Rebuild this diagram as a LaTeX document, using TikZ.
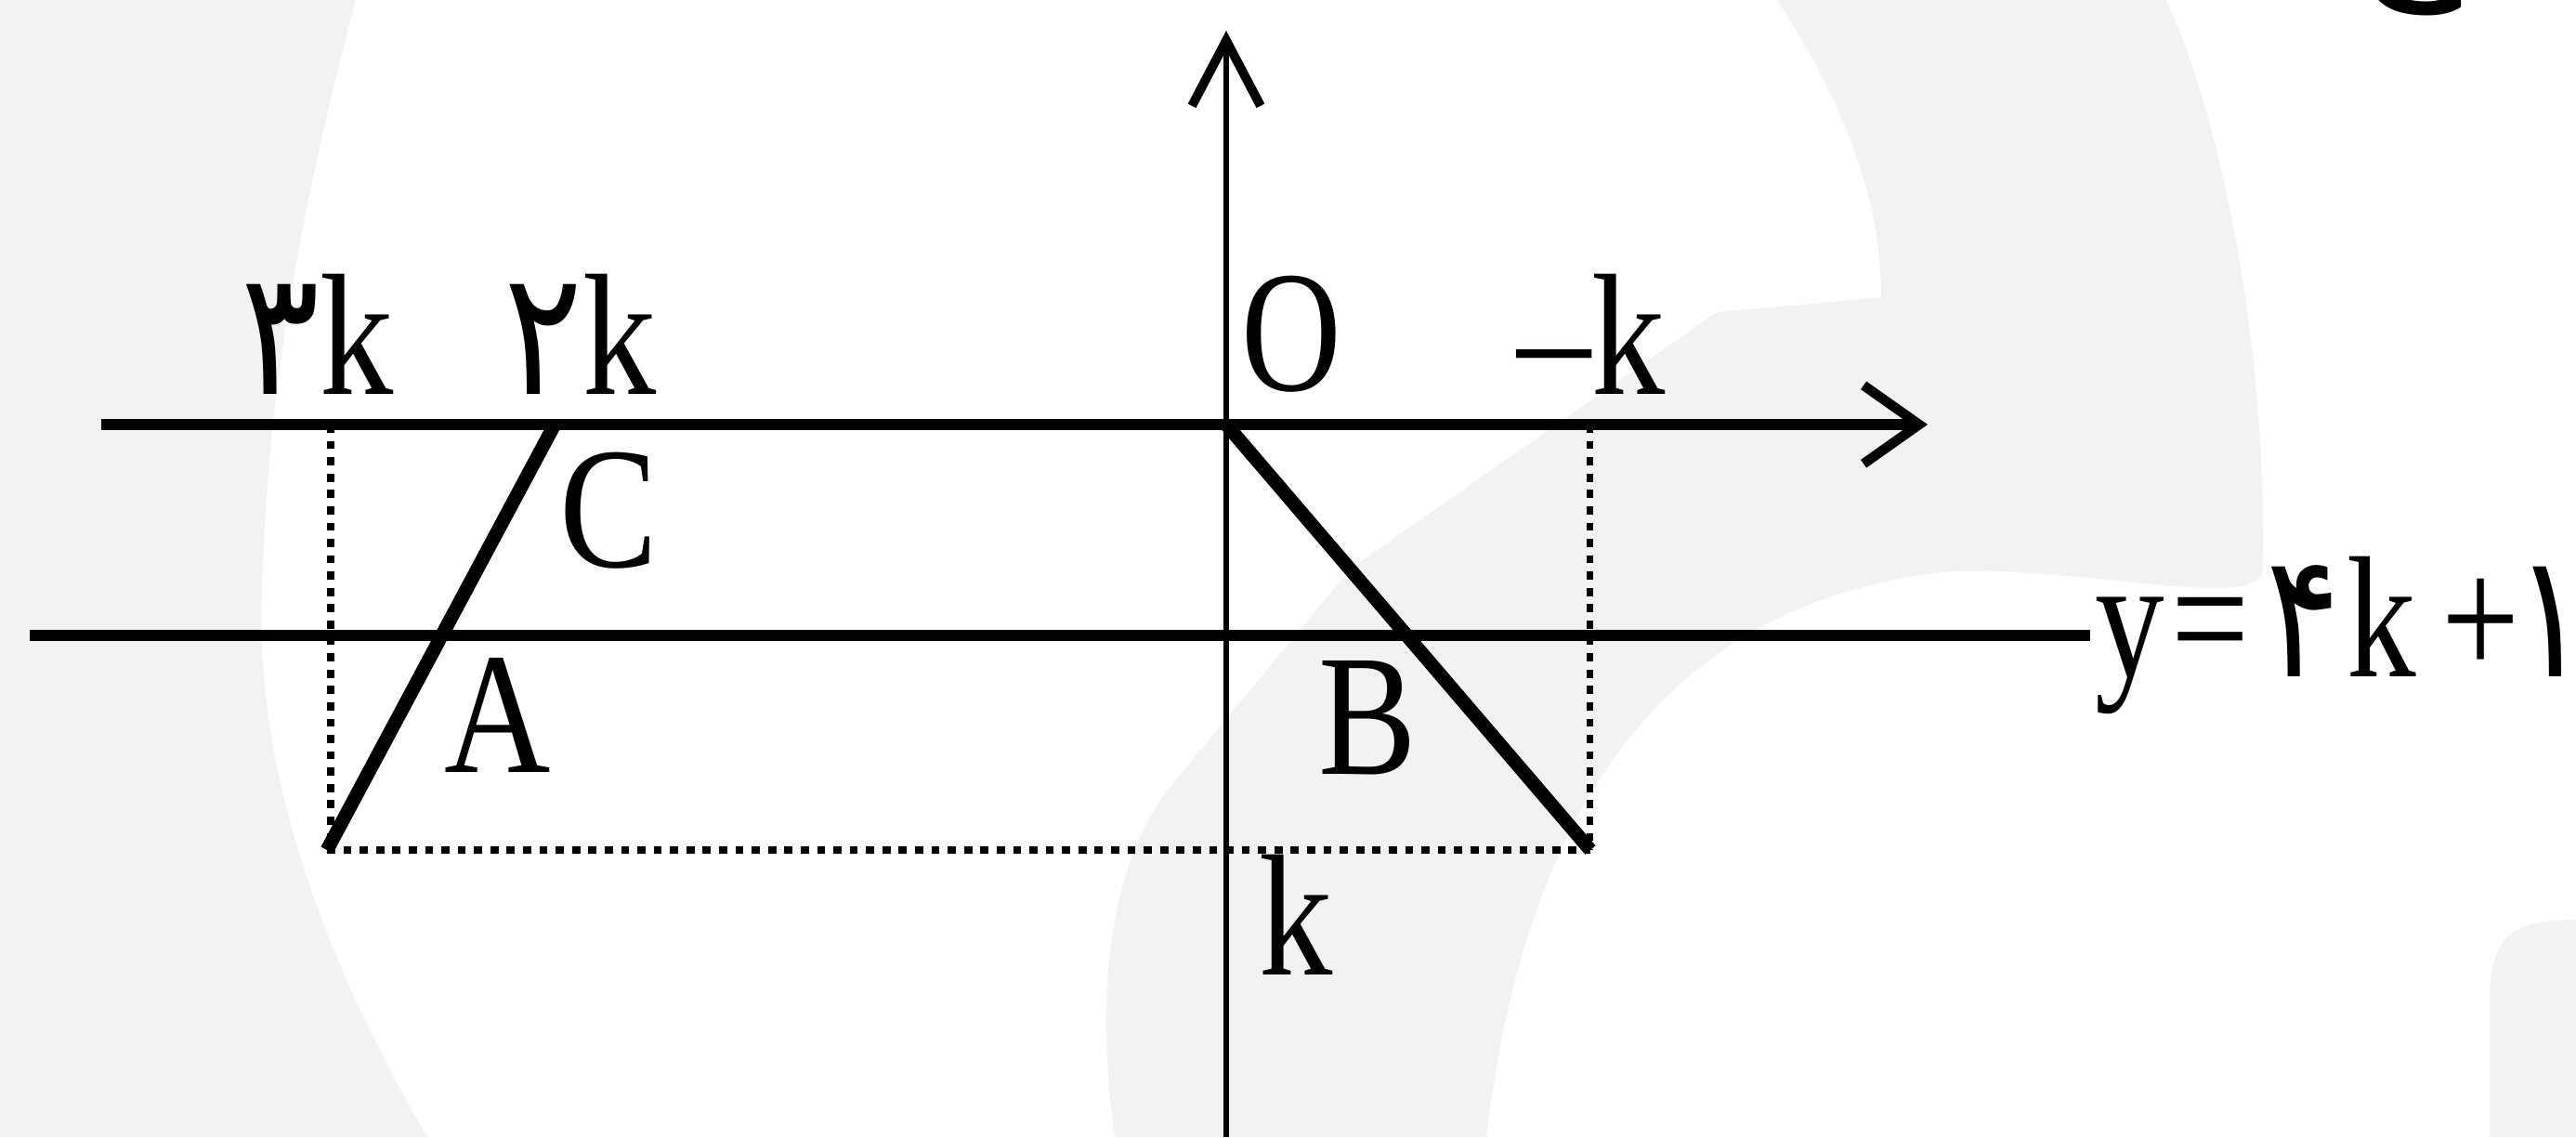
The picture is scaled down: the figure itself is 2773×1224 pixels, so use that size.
\documentclass[tikz,border=0pt]{standalone}
\usepackage{fontspec}
\setmainfont{Liberation Serif}
\newfontfamily\fa{DejaVu Sans}
\usepackage{graphicx}
\usetikzlibrary{arrows.meta}
\definecolor{wm}{HTML}{F2F2F2}
\begin{document}
\begin{tikzpicture}[x=0.01cm,y=-0.01cm,
  lbl/.style={inner sep=0pt, font=\fontsize{53}{60}\selectfont},
  axisline/.style={line width=3.2pt, black},
  axisv/.style={line width=1.7pt, black},
  slant/.style={line width=4.2pt, black},
  guide/.style={line width=2pt, black, dash pattern=on 2.5pt off 2.5pt}]
\useasboundingbox (0,0) rectangle (2773,1224);
% watermark background
\fill[wm] (0,0) rectangle (2773,1224);
\fill[white] (383,0) -- (1913,0) .. controls (1990,120) and (2025,220) .. (2025,320)
  -- (1848,336) -- (1454,612) -- (1257,850) .. controls (1190,940) and (1180,1080) .. (1200,1224)
  -- (460,1224) .. controls (330,1000) and (270,800) .. (283,612)
  .. controls (290,400) and (330,200) .. (383,0) -- cycle;
\fill[white] (2332,0) -- (2773,0) -- (2773,990) .. controls (2700,990) and (2680,1010) .. (2680,1080)
  -- (2680,1224) -- (1600,1224) .. controls (1650,800) and (1850,640) .. (2100,615)
  .. controls (2250,610) and (2435,660) .. (2436,612)
  .. controls (2440,400) and (2400,150) .. (2332,0) -- cycle;
% coordinates
\coordinate (O) at (1320,457);
\coordinate (xs) at (109,457);
\coordinate (xe) at (2075,457);
\coordinate (yt) at (1320,33);
\coordinate (yb) at (1320,1224);
\coordinate (ls) at (32,684);
\coordinate (le) at (2250,684);
\coordinate (ct) at (597,457);
\coordinate (cb) at (352,915);
\coordinate (ob) at (1712,915);
\coordinate (d1t) at (356,457);
\coordinate (d1b) at (356,915);
\coordinate (d2t) at (1711,457);
\coordinate (d2b) at (1711,915);
% guides
\draw[guide] (d1t) -- (d1b);
\draw[guide] (d2t) -- (d2b);
\draw[guide] (cb) -- (ob);
% axes and lines
\draw[axisline, -{Straight Barb[length=17pt,width=24pt,line width=3pt]}] (xs) -- (xe);
\draw[axisline] (ls) -- (le);
\draw[axisv, -{Straight Barb[length=20pt,width=21pt,line width=2.8pt]}] (yb) -- (yt);
\draw[slant] (cb) -- (ct);
\draw[slant] (O) -- (ob);
% labels
\node[lbl] (l3k) at (342,360) {\scalebox{0.85}[1]{{\fa ۳}k}};
\node[lbl] (l2k) at (625,360) {\scalebox{0.85}[1]{{\fa ۲}k}};
\node[lbl] (lO) at (1390,360) {\scalebox{0.8}[1]{O}};
\node[lbl] (lmk) at (1713,360) {\scalebox{0.85}[1]{\textendash k}};
\node[lbl] (lC) at (655,550) {\scalebox{0.85}[1]{C}};
\node[lbl] (lA) at (536,770) {\scalebox{0.85}[1]{A}};
\node[lbl] (lB) at (1472,773) {\scalebox{0.85}[1]{B}};
\node[lbl] (lk) at (1395,985) {\scalebox{0.85}[1]{k}};
\node[lbl, anchor=west] (leq) at (2255,684) {\scalebox{0.8}[1]{y{\kern2.4pt}={\kern6.4pt}{\fa ۴}{\kern2.5pt}k{\kern9.8pt}+{\kern-2pt}{\fa ۱}}};
\node[lbl, anchor=south] (lj) at (2590,18) {\fa ج};
\end{tikzpicture}
\end{document}
